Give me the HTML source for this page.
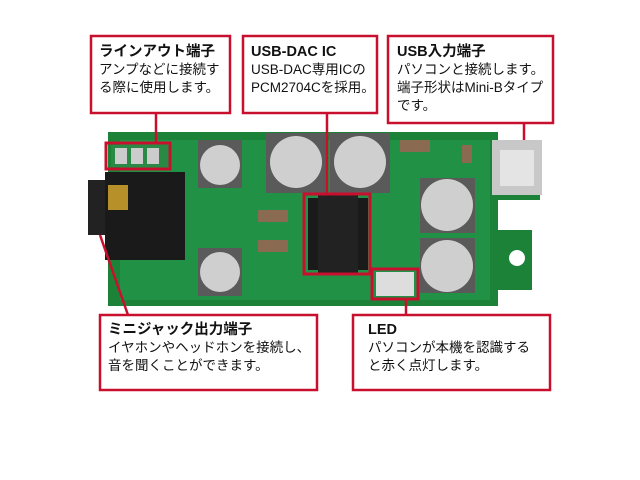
<!DOCTYPE html>
<html><head><meta charset="utf-8"><style>
html,body{margin:0;padding:0;background:#fff;width:640px;height:480px;overflow:hidden}
svg{display:block}
text{font-family:"Liberation Sans","Noto Sans CJK JP",sans-serif;fill:#111}
.b{font-weight:bold;font-size:14.5px}
.n{font-size:13.5px}
</style></head><body>
<svg width="640" height="480" viewBox="0 0 640 480">
<path d="M108 132 H498 V140 H540 V200 H498 V230 H532 V290 H498 V306 H108 Z" fill="#1c8238"/>
<rect x="120" y="140" width="370" height="160" fill="#219245"/>
<rect x="492" y="140" width="50" height="55" fill="#c8c8c8"/>
<rect x="500" y="150" width="34" height="36" fill="#e4e4e4"/>
<rect x="500" y="200" width="40" height="30" fill="#fff"/>
<circle cx="517" cy="258" r="8" fill="#fff"/>
<rect x="88" y="180" width="20" height="55" fill="#222"/>
<rect x="105" y="172" width="80" height="88" fill="#1a1a1a"/>
<rect x="108" y="185" width="20" height="25" fill="#b8902a"/>
<rect x="111" y="145" width="57" height="22" fill="#2a8a45"/>
<rect x="115" y="148" width="12" height="16" fill="#ccc"/><rect x="131" y="148" width="12" height="16" fill="#ccc"/><rect x="147" y="148" width="12" height="16" fill="#ccc"/>
<g fill="#5a5a5a"><rect x="198" y="140" width="44" height="48"/><rect x="266" y="133" width="60" height="60"/><rect x="330" y="133" width="60" height="60"/><rect x="420" y="178" width="55" height="55"/><rect x="420" y="238" width="55" height="55"/><rect x="198" y="248" width="44" height="48"/></g>
<g fill="#cfcfcf"><circle cx="220" cy="165" r="20"/><circle cx="296" cy="162" r="26"/><circle cx="360" cy="162" r="26"/><circle cx="447" cy="205" r="26"/><circle cx="447" cy="266" r="26"/><circle cx="220" cy="272" r="20"/></g>
<rect x="308" y="198" width="60" height="72" fill="#1a1a1a"/>
<rect x="318" y="195" width="40" height="78" fill="#222"/>
<rect x="376" y="272" width="38" height="24" fill="#ddd"/>
<g fill="#8a6a50"><rect x="258" y="210" width="30" height="12"/><rect x="258" y="240" width="30" height="12"/><rect x="400" y="140" width="30" height="12"/><rect x="462" y="145" width="10" height="18"/></g>
<g fill="none" stroke="#c8102e" stroke-width="3">
<rect x="106" y="143" width="64" height="26"/>
<rect x="304" y="194" width="66" height="80"/>
<rect x="372" y="269" width="46" height="30"/>
</g>
<g stroke="#c8102e" stroke-width="2.5">
<line x1="156" y1="112" x2="156" y2="143"/>
<line x1="327" y1="113" x2="327" y2="194"/>
<line x1="524" y1="123" x2="524" y2="140"/>
<line x1="100" y1="235" x2="128" y2="315"/>
<line x1="406" y1="299" x2="406" y2="315"/>
</g>
<g fill="#fff" stroke="#c8102e" stroke-width="2.5">
<rect x="91" y="36" width="139" height="77"/>
<rect x="243" y="36" width="134" height="77"/>
<rect x="388" y="36" width="165" height="87"/>
<rect x="100" y="315" width="217" height="75"/>
<rect x="353" y="315" width="197" height="75"/>
</g>
<text class="b" x="99" y="56">ラインアウト端子</text>
<text class="n" x="99" y="74">アンプなどに接続す</text>
<text class="n" x="99" y="92">る際に使用します。</text>
<text class="b" x="251" y="56">USB-DAC IC</text>
<text class="n" x="251" y="74">USB-DAC専用ICの</text>
<text class="n" x="251" y="92">PCM2704Cを採用。</text>
<text class="b" x="397" y="56">USB入力端子</text>
<text class="n" x="397" y="74">パソコンと接続します。</text>
<text class="n" x="397" y="92">端子形状はMini-Bタイプ</text>
<text class="n" x="397" y="110">です。</text>
<text class="b" x="108" y="334">ミニジャック出力端子</text>
<text class="n" x="108" y="352">イヤホンやヘッドホンを接続し、</text>
<text class="n" x="108" y="370">音を聞くことができます。</text>
<text class="b" x="368" y="334">LED</text>
<text class="n" x="368" y="352">パソコンが本機を認識する</text>
<text class="n" x="368" y="370">と赤く点灯します。</text>
</svg>
</body></html>
